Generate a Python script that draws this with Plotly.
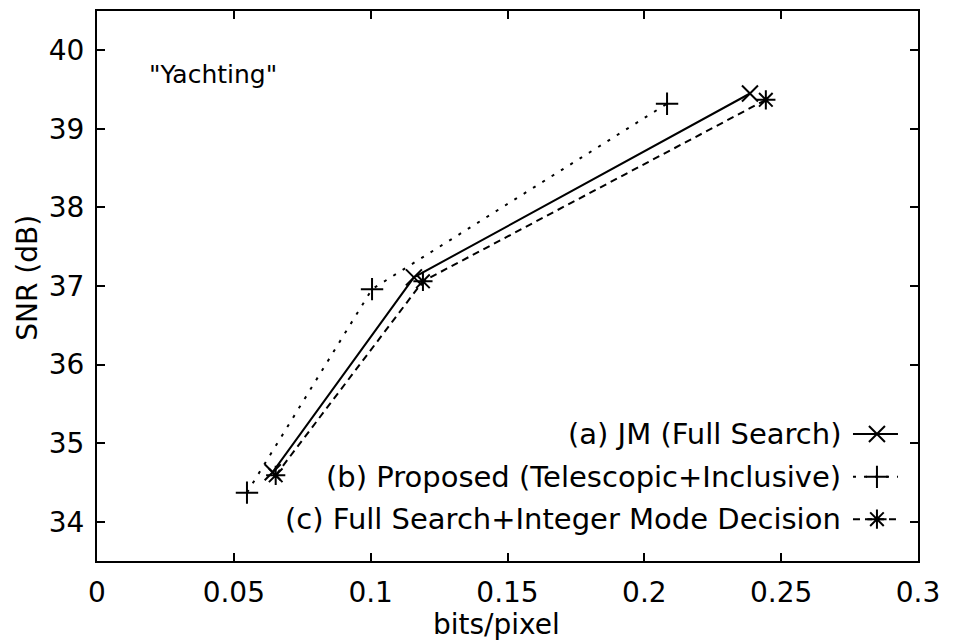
import plotly.graph_objects as go

# ---- data ----
bpp_a = [0.0642, 0.1158, 0.2386]
snr_a = [34.63, 37.11, 39.45]
bpp_b = [0.0548, 0.1005, 0.2083]
snr_b = [34.37, 36.96, 39.32]
bpp_c = [0.0653, 0.1191, 0.2444]
snr_c = [34.59, 37.06, 39.37]

names = ["(a) JM (Full Search)",
         "(b) Proposed (Telescopic+Inclusive)",
         "(c) Full Search+Integer Mode Decision"]

x_ticks = [0, 0.05, 0.1, 0.15, 0.2, 0.25, 0.3]
x_ticklabels = ["0", "0.05", "0.1", "0.15", "0.2", "0.25", "0.3"]
y_ticks = [34, 35, 36, 37, 38, 39, 40]
y_ticklabels = ["34", "35", "36", "37", "38", "39", "40"]

FONT = "DejaVu Sans"
FS_TICK = 28
FS_LEG = 29
FS_LABEL = 28

styles = [
    dict(dash="solid", symbol="x-thin-open"),
    dict(dash="3px,8px", symbol="cross-thin-open"),
    dict(dash="7px,5px", symbol="asterisk-open"),
]

fig = go.Figure()
for xs, ys, st, nm in zip([bpp_a, bpp_b, bpp_c], [snr_a, snr_b, snr_c], styles, names):
    fig.add_trace(go.Scatter(
        x=xs, y=ys, mode="lines+markers", name=nm, showlegend=False,
        line=dict(color="black", width=2, dash=st["dash"]),
        marker=dict(symbol=st["symbol"], size=16, color="black",
                    line=dict(color="black", width=2)),
    ))

# custom legend (text left, sample right) on an overlay axis spanning the plot area
leg_y = [0.231, 0.153, 0.076]
x_text = 0.9086
x_l0, x_l1, x_m = 0.9208, 0.9756, 0.950
annotations = []
for st, nm, yy in zip(styles, names, leg_y):
    fig.add_trace(go.Scatter(
        x=[x_l0, x_l1], y=[yy, yy], mode="lines", showlegend=False,
        xaxis="x2", yaxis="y2", hoverinfo="skip",
        line=dict(color="black", width=2, dash=st["dash"])))
    fig.add_trace(go.Scatter(
        x=[x_m], y=[yy], mode="markers", showlegend=False,
        xaxis="x2", yaxis="y2", hoverinfo="skip",
        marker=dict(symbol=st["symbol"], size=16, color="black",
                    line=dict(color="black", width=2))))
    annotations.append(dict(
        x=x_text, y=yy, xref="paper", yref="paper", text=nm, showarrow=False,
        xanchor="right", yanchor="middle",
        font=dict(family=FONT, size=FS_LEG, color="black")))

annotations.append(dict(
    x=0.0183, y=39.69, xref="x", yref="y", text='"Yachting"', showarrow=False,
    xanchor="left", yanchor="middle", font=dict(family=FONT, size=25, color="black")))
annotations.append(dict(
    x=0.487, y=0, xref="paper", yref="paper", text="bits/pixel", showarrow=False,
    xanchor="center", yanchor="middle", yshift=-63,
    font=dict(family=FONT, size=FS_LABEL, color="black")))
annotations.append(dict(
    x=0, y=0.515, xref="paper", yref="paper", text="SNR (dB)", showarrow=False,
    xanchor="center", yanchor="middle", xshift=-69, textangle=-90,
    font=dict(family=FONT, size=FS_LABEL, color="black")))

axis_common = dict(
    showline=True, linecolor="black", linewidth=2, mirror="ticks",
    ticks="inside", ticklen=8, tickwidth=2, tickcolor="black",
    showgrid=False, zeroline=False,
    tickfont=dict(family=FONT, size=FS_TICK, color="black"),
)

# the page body adds an 8px offset; figure is sized/margined to compensate
fig.update_layout(
    width=945, height=636,
    margin=dict(l=89, r=35, t=3, b=83, autoexpand=False),
    paper_bgcolor="white", plot_bgcolor="white",
    xaxis=dict(range=[0, 0.3], tickvals=x_ticks, ticktext=x_ticklabels,
               ticklabelstandoff=5, **axis_common),
    yaxis=dict(range=[33.5, 40.5], tickvals=y_ticks, ticktext=y_ticklabels,
               ticklabelstandoff=5, **axis_common),
    xaxis2=dict(range=[0, 1], overlaying="x", visible=False, fixedrange=True),
    yaxis2=dict(range=[0, 1], overlaying="y", visible=False, fixedrange=True),
    annotations=annotations,
    showlegend=False,
)

fig.write_html("out.html")
